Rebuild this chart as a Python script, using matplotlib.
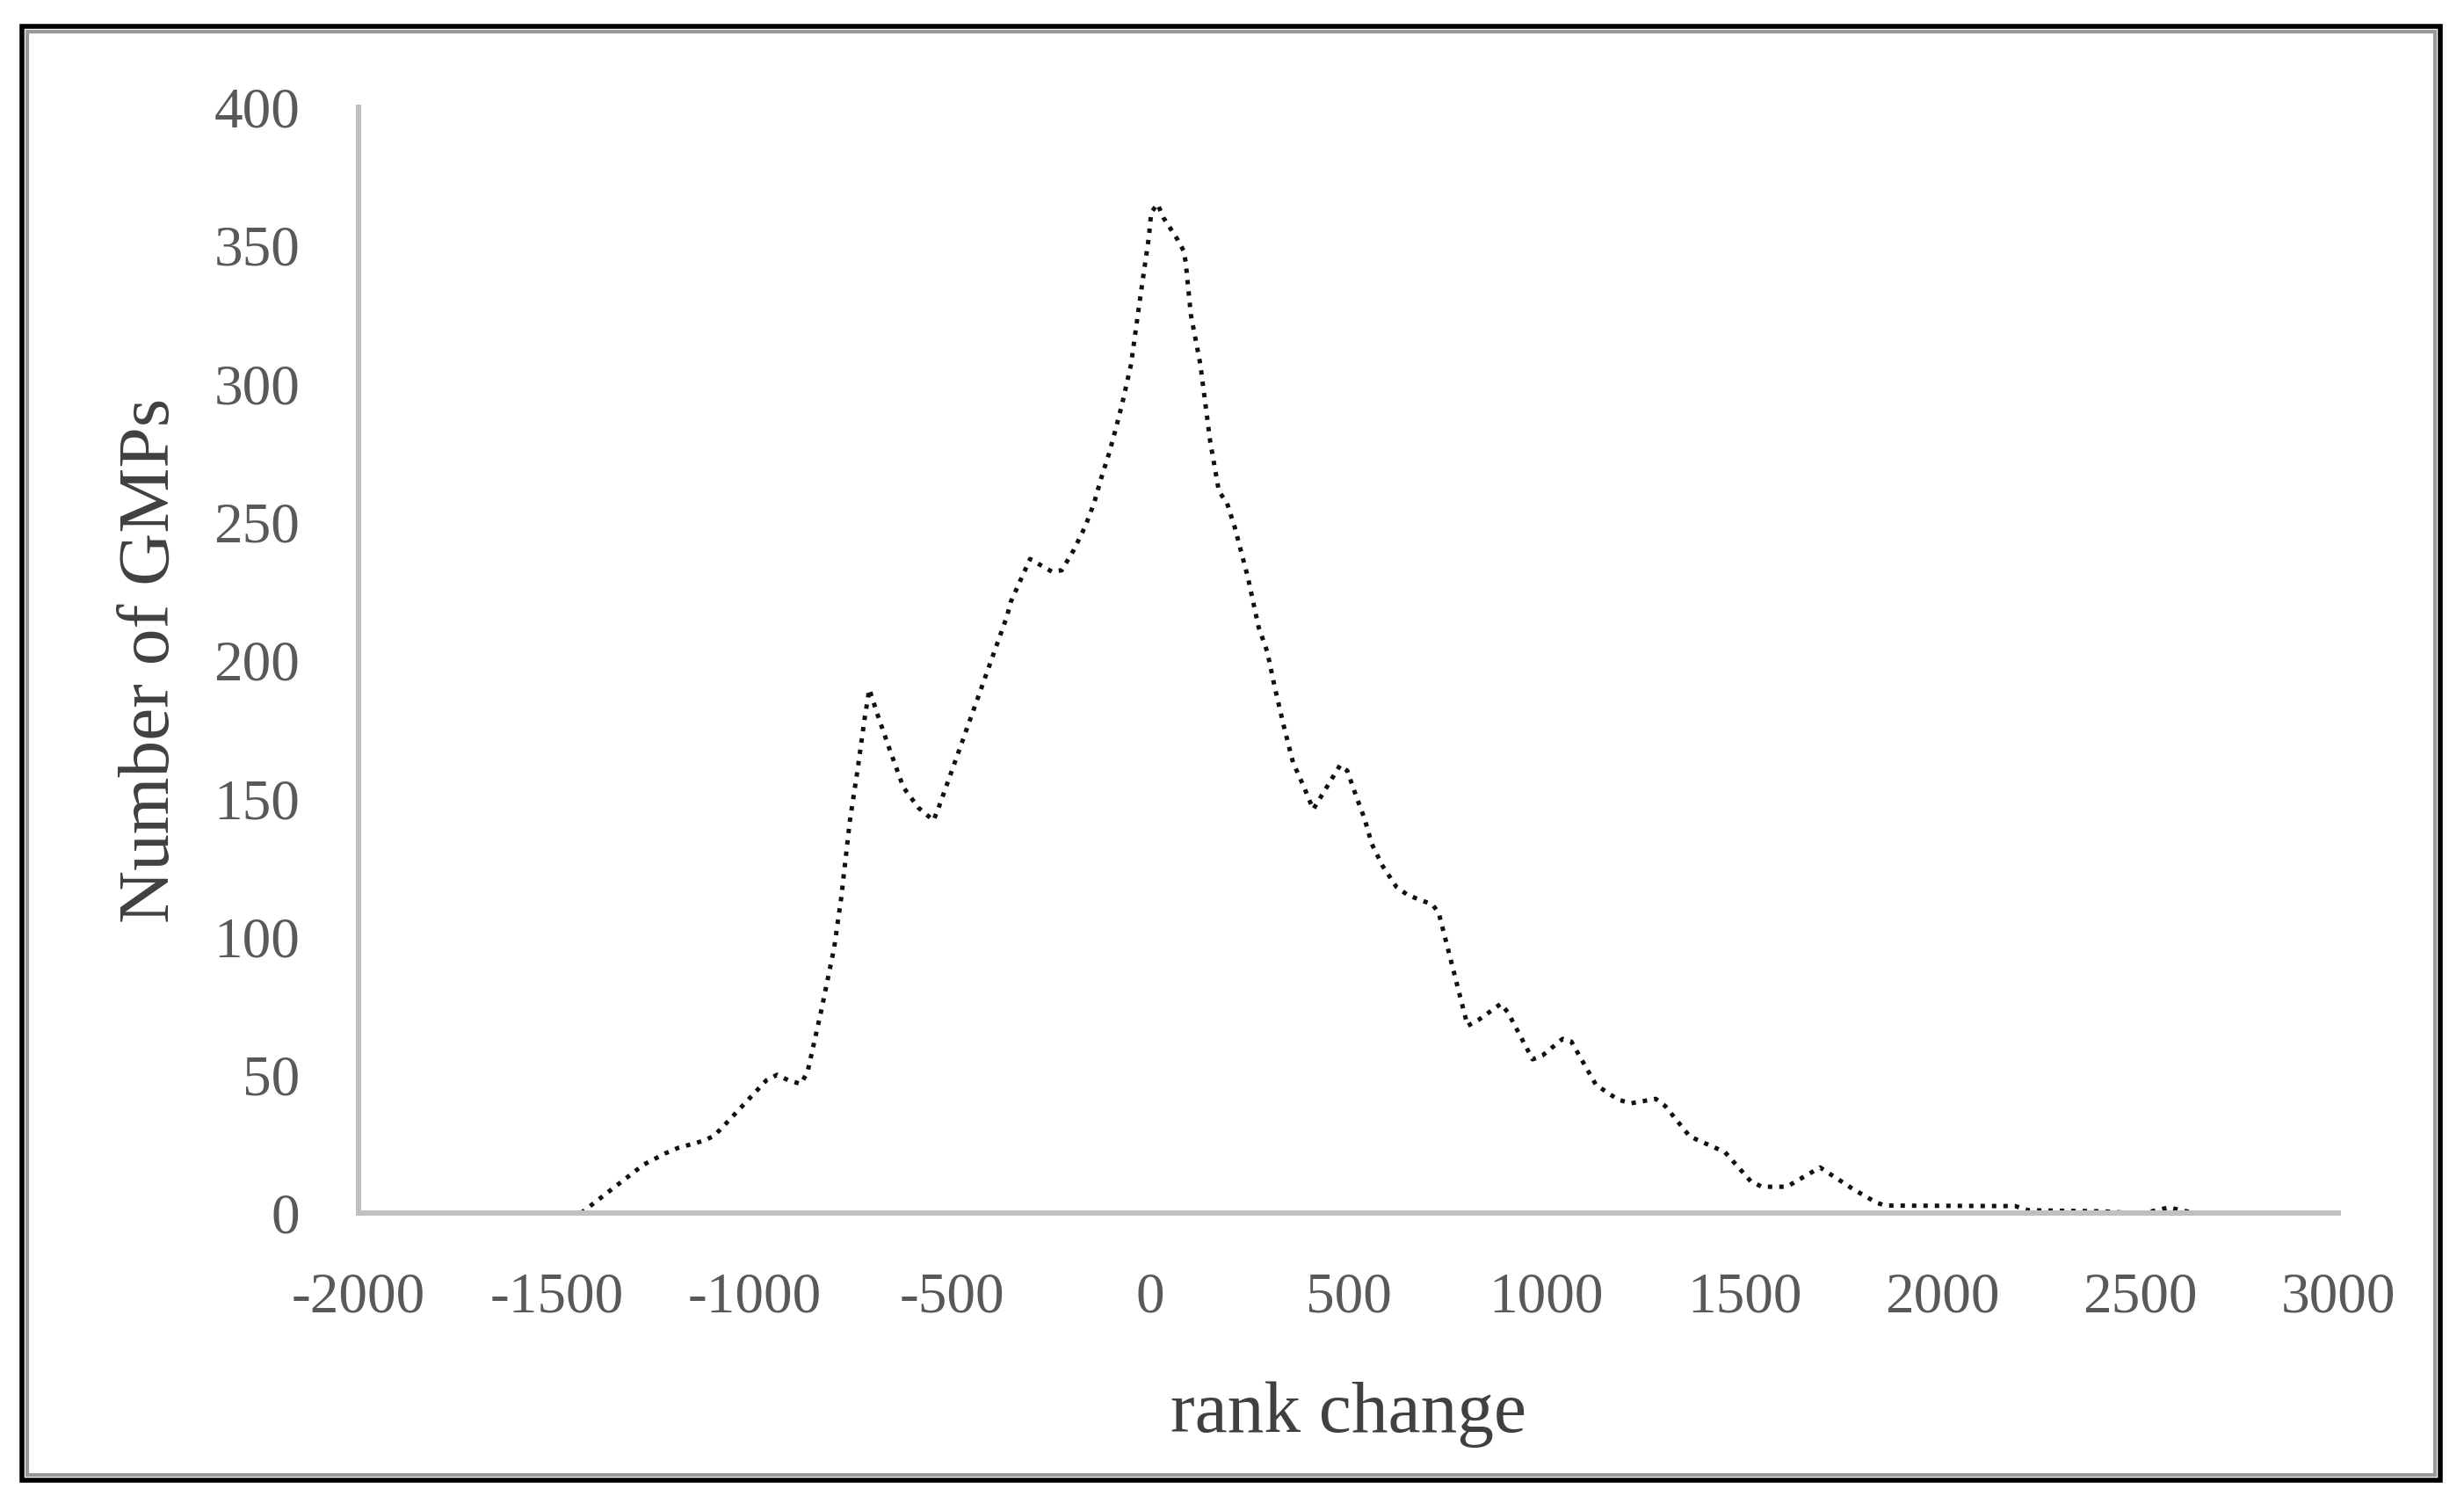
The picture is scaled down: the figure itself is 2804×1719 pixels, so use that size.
import matplotlib.pyplot as plt
from matplotlib.patches import Rectangle

plt.rcParams['axes.unicode_minus'] = False

# values
rank_change = [-1438, -1280, -1225, -1194, -1132, -1103, -1081, -970, -943, -914,
               -883, -866, -832, -799, -781, -759, -741, -722, -710, -690,
               -657, -624, -586, -548, -535, -362, -353, -304, -249, -224,
               -193, -164, -142, -124, -104, -87, -71, -49, -27, -4,
               2, 18, 33, 69, 84, 89, 102, 126, 151, 173,
               193, 213, 246, 273, 295, 315, 337, 360, 388, 411,
               479, 497, 519, 541, 559, 586, 621, 650, 712, 728,
               801, 830, 885, 903, 965, 990, 1041, 1063, 1125, 1181,
               1214, 1276, 1300, 1362, 1423, 1451, 1516, 1544, 1607, 1691,
               1775, 1833, 1855, 2184, 2217, 2408, 2475, 2510, 2572, 2636]
n_gmps = [0, 17.5, 21.6, 23.5, 26, 27.8, 31, 48, 50, 48,
          46.7, 51, 72.8, 95.7, 114, 142, 159, 178.7, 189.5, 180.6,
          167, 154, 146.6, 142, 146.6, 216, 221, 236.6, 232, 232.5,
          240, 248.6, 257, 266, 275, 284, 293, 307, 330, 353,
          362, 365, 360, 352, 348, 344, 325, 307, 279, 261,
          257, 248, 230, 212, 203, 189.5, 176, 163, 154, 146,
          162, 160, 151, 142.5, 133.5, 125.6, 118, 115, 111.6, 108.6,
          67.7, 70, 75.7, 72.5, 55.6, 57, 63, 62, 46.4, 41,
          39.7, 41.3, 38.7, 27.7, 23.8, 22, 11.5, 9.5, 9.5, 16.5,
          8.6, 3.8, 2.7, 2.5, 1, 0.6, 0, 0, 2, 0]

x_ticks = [-2000, -1500, -1000, -500, 0, 500, 1000, 1500, 2000, 2500, 3000]
y_ticks = [0, 50, 100, 150, 200, 250, 300, 350, 400]

W, H = 2804, 1719
fig = plt.figure(figsize=(W / 100, H / 100), dpi=100)
ax = fig.add_axes([408 / W, 1 - 1380 / H, (2661 - 408) / W, (1380 - 122) / H])

ax.plot(rank_change, n_gmps, color='#111111', lw=3.6, linestyle=(0, (1, 1.6)))

ax.set_xlim(-2000, 3000)
ax.set_ylim(0, 400)
ax.set_xticks(x_ticks)
ax.set_yticks(y_ticks)

font = ['Liberation Serif', 'DejaVu Serif']
for lab in ax.get_xticklabels() + ax.get_yticklabels():
    lab.set_family(font)
    lab.set_fontsize(47)
    lab.set_color('#595959')
ax.tick_params(length=0)
ax.tick_params(axis='y', pad=48)
ax.tick_params(axis='x', pad=48)

for s in ['top', 'right']:
    ax.spines[s].set_visible(False)
for s in ['left', 'bottom']:
    ax.spines[s].set_color('#c0c0c0')
    ax.spines[s].set_linewidth(4.3)

ax.set_xlabel('rank change', family=font, fontsize=60, color='#404040')
ax.set_ylabel('Number of GMPs', family=font, fontsize=60, color='#404040')
ax.xaxis.set_label_coords(0.5, -0.152)
ax.yaxis.set_label_coords(-0.088, 0.5)

# frame round the whole picture
fig.patches.append(Rectangle((25 / W, 1 - 1684 / H), (2777 - 25) / W, (1684 - 30) / H,
                             transform=fig.transFigure, fill=False,
                             edgecolor='black', lw=4))
fig.patches.append(Rectangle((31 / W, 1 - 1678 / H), (2771 - 31) / W, (1678 - 36) / H,
                             transform=fig.transFigure, fill=False,
                             edgecolor='#999999', lw=3))

fig.savefig('out.png', dpi=100)
